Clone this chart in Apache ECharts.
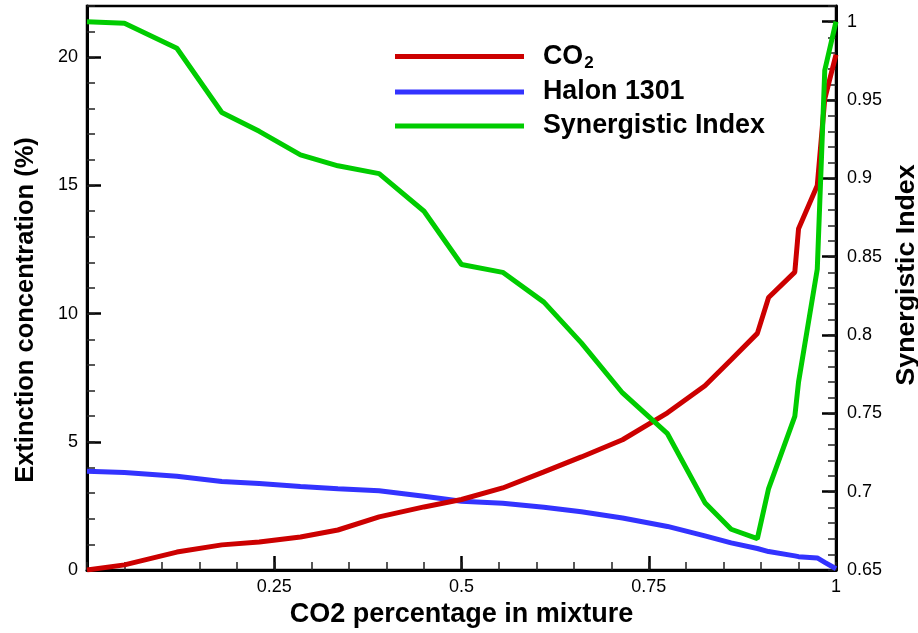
<!DOCTYPE html>
<html><head><meta charset="utf-8">
<script src="https://cdn.jsdelivr.net/npm/echarts@6/dist/echarts.min.js"></script>
<style>html,body{margin:0;padding:0;background:#fff}#c{width:918px;height:633px}</style>
</head><body><div id="c"></div>
<script>
const xValues   = [0, 0.05, 0.12, 0.18, 0.23, 0.285, 0.335, 0.39, 0.45, 0.50, 0.555, 0.61, 0.66, 0.715, 0.775, 0.825, 0.86, 0.895, 0.91, 0.945, 0.95, 0.975, 0.985, 1.0];
const co2       = [0, 0.2, 0.70, 0.98, 1.09, 1.29, 1.56, 2.07, 2.46, 2.75, 3.2, 3.83, 4.41, 5.08, 6.13, 7.19, 8.2, 9.23, 10.63, 11.62, 13.31, 15.0, 18.38, 20.1];
const halon     = [3.85, 3.8, 3.66, 3.45, 3.37, 3.26, 3.17, 3.09, 2.88, 2.68, 2.6, 2.45, 2.27, 2.03, 1.7, 1.33, 1.06, 0.84, 0.72, 0.55, 0.52, 0.47, 0.3, 0.05];
const synergy   = [1.0, 0.999, 0.983, 0.942, 0.930, 0.915, 0.908, 0.903, 0.879, 0.845, 0.840, 0.821, 0.795, 0.763, 0.737, 0.693, 0.676, 0.670, 0.702, 0.748, 0.770, 0.842, 0.969, 1.0];
const seriesNames = ['CO2', 'Halon 1301', 'Synergistic Index'];
const xTickLabels = ['0.25', '0.5', '0.75', '1'];

const pairs = (ys) => xValues.map((x, i) => [x, ys[i]]);
const FONT = 'Liberation Sans, Arial, sans-serif';
const tickLbl = {color: '#000', fontFamily: FONT, fontSize: 18};

const chart = echarts.init(document.getElementById('c'), null, {renderer: 'canvas'});
chart.setOption({
  animation: false,
  backgroundColor: '#fff',
  grid: {left: 87, right: 82, top: 6, bottom: 63, show: true, borderColor: '#000', borderWidth: 2.5,
         containLabel: false, outerBoundsMode: 'none'},
  legend: {
    orient: 'vertical', left: 390, top: 38, itemWidth: 129, itemHeight: 5, itemGap: 7,
    icon: 'rect', selectedMode: false,
    data: seriesNames,
    formatter: n => n === 'CO2' ? '{b|CO}{s|2}' : '{b|' + n + '}',
    textStyle: {
      padding: [0, 0, 0, 14],
      rich: {
        b: {fontFamily: FONT, fontWeight: 'bold', fontSize: 26.8, color: '#000', lineHeight: 30},
        s: {fontFamily: FONT, fontWeight: 'bold', fontSize: 17, color: '#000', lineHeight: 12, verticalAlign: 'bottom', padding: [0, 0, 0, 1]}
      }
    }
  },
  xAxis: [
    {type: 'value', min: 0, max: 1, interval: 0.25, position: 'bottom',
     name: 'CO2 percentage in mixture', nameLocation: 'middle', nameGap: 28,
     nameTextStyle: {fontFamily: FONT, fontWeight: 'bold', fontSize: 27, color: '#000'},
     axisLine: {show: true, lineStyle: {color: '#000', width: 3}},
     axisTick: {show: true, inside: true, length: 14, lineStyle: {color: '#000', width: 2.5}},
     axisLabel: Object.assign({showMinLabel: false, margin: 8,
       formatter: v => { const s = String(+v.toFixed(2)); return xTickLabels.includes(s) ? s : ''; }}, tickLbl),
     splitLine: {show: false}},
    {type: 'value', min: 0, max: 1, interval: 0.05, position: 'bottom', gridIndex: 0,
     axisLine: {show: false, onZero: false}, axisLabel: {show: false}, splitLine: {show: false},
     axisTick: {show: true, inside: true, length: 8, lineStyle: {color: '#222', width: 1.5}}}
  ],
  yAxis: [
    {type: 'value', min: 0, max: 22, interval: 5, position: 'left',
     name: 'Extinction concentration (%)', nameLocation: 'middle', nameGap: 48, nameRotate: 90,
     nameTextStyle: {fontFamily: FONT, fontWeight: 'bold', fontSize: 25.5, color: '#000', padding: [0, 44, 0, 0]},
     axisLine: {show: true, onZero: false, lineStyle: {color: '#000', width: 3}},
     axisTick: {show: true, inside: true, length: 14, lineStyle: {color: '#000', width: 2.5}},
     axisLabel: Object.assign({showMaxLabel: false, margin: 9}, tickLbl),
     splitLine: {show: false}},
    {type: 'value', min: 0.65, max: 1.01, interval: 0.05, position: 'right',
     name: 'Synergistic Index', nameLocation: 'middle', nameGap: 56, nameRotate: 90,
     nameTextStyle: {fontFamily: FONT, fontWeight: 'bold', fontSize: 26.7, color: '#000', padding: [0, 0, 0, 26]},
     axisLine: {show: true, onZero: false, lineStyle: {color: '#000', width: 3}},
     axisTick: {show: true, inside: true, length: 14, lineStyle: {color: '#000', width: 2.5}},
     axisLabel: Object.assign({showMaxLabel: false, margin: 11}, tickLbl),
     splitLine: {show: false}},
    {type: 'value', min: 0, max: 22, interval: 1, position: 'left', offset: 0,
     axisLine: {show: false, onZero: false}, axisLabel: {show: false}, splitLine: {show: false},
     axisTick: {show: true, inside: true, length: 8, lineStyle: {color: '#222', width: 1.5}}},
    {type: 'value', min: 0.65, max: 1.01, interval: 0.01, position: 'right', offset: 0,
     axisLine: {show: false, onZero: false}, axisLabel: {show: false}, splitLine: {show: false},
     axisTick: {show: true, inside: true, length: 8, lineStyle: {color: '#222', width: 1.5}}}
  ],
  series: [
    {name: seriesNames[0], type: 'line', xAxisIndex: 0, yAxisIndex: 0, data: pairs(co2), showSymbol: false, z: 3,
     lineStyle: {color: '#cc0000', width: 5}, itemStyle: {color: '#cc0000'}},
    {name: seriesNames[1], type: 'line', xAxisIndex: 0, yAxisIndex: 0, data: pairs(halon), showSymbol: false, z: 2,
     lineStyle: {color: '#3333ff', width: 5}, itemStyle: {color: '#3333ff'}},
    {name: seriesNames[2], type: 'line', xAxisIndex: 0, yAxisIndex: 1, data: pairs(synergy), showSymbol: false, z: 4,
     lineStyle: {color: '#00cc00', width: 5}, itemStyle: {color: '#00cc00'}}
  ]
});
</script></body></html>
